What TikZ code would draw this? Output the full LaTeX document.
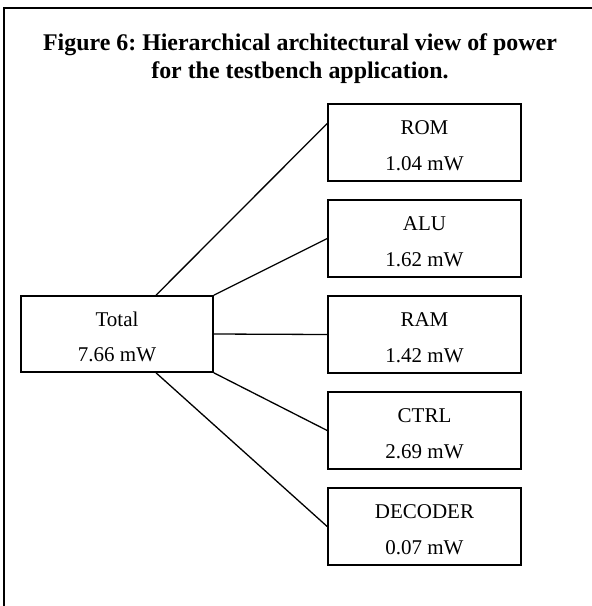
\documentclass[tikz,border=0pt]{standalone}
\usepackage{fontspec}
\setmainfont{Liberation Serif}
\usetikzlibrary{calc}
\frenchspacing

\begin{document}
\begin{tikzpicture}[x=1pt, y=-1pt,
	unit/.style={draw, line width=1.6pt, minimum width=193pt, minimum height=77pt, inner sep=0pt, align=center, text height=55pt, text depth=0pt, font=\fontsize{21}{35.5}\selectfont},
	link/.style={line width=1.3pt}]
	\def\bx{424.5}
	\def\gap{96}

	\useasboundingbox (0,0) rectangle (592,606);
	\draw[line width=2pt]		(4,620) -- (4,8) -- (600,8);

	\node[font=\bfseries\fontsize{23.9}{28}\selectfont, align=center, anchor=base] (title) at (300,78.5) {Figure 6: Hierarchical architectural view of power\\for the testbench application.};

	\node[unit, minimum width=192pt, minimum height=76pt] (total) at (117,334) {Total\\7.66 mW};

	\node[unit] (rom) at (\bx,142.5) {ROM\\1.04 mW};
	\node[unit] (alu) at (\bx,142.5+\gap) {ALU\\1.62 mW};
	\node[unit] (ram) at (\bx,142.5+2*\gap) {RAM\\1.42 mW};
	\node[unit] (ctrl) at (\bx,142.5+3*\gap) {CTRL\\2.69 mW};
	\node[unit] (dec) at (\bx,142.5+4*\gap) {DECODER\\0.07 mW};

	\draw[link]		($(total.north)+(39,0)$) -- ($(rom.west)+(0,-19)$);
	\draw[link]		(total.north east) -- (alu.west);
	\draw[link]		(total.east) -- (ram.west);
	\draw[link]		(total.south east) -- (ctrl.west);
	\draw[link]		($(total.south)+(39,0)$) -- (dec.west);
\end{tikzpicture}
\end{document}
